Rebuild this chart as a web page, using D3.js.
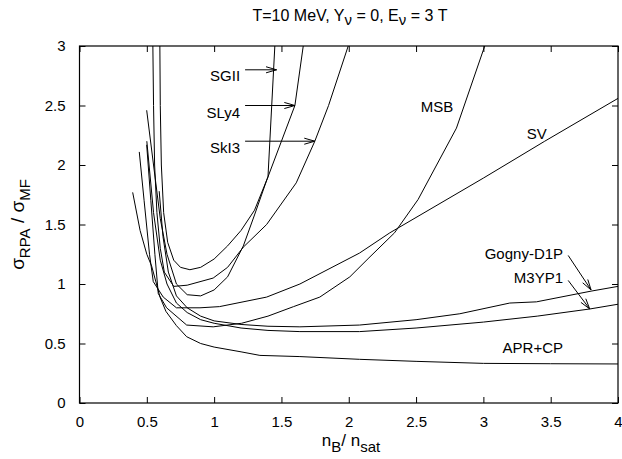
<!DOCTYPE html>
<html>
<head>
<meta charset="utf-8">
<script src="https://cdn.jsdelivr.net/npm/d3@7"></script>
<style>
  html, body { margin: 0; padding: 0; background: #fff; }
  svg text { font-family: "Liberation Sans", Arial, sans-serif; fill: #000; }
</style>
</head>
<body>
<svg id="chart" width="622" height="459"></svg>
<script>
// Ratio of RPA to mean-field cross sections vs. baryon density, one curve per interaction
const xTicks = [0, 0.5, 1, 1.5, 2, 2.5, 3, 3.5, 4];
const yTicks = [0, 0.5, 1, 1.5, 2, 2.5, 3];

const sgII = [[0.597,3.0],[0.600,2.5],[0.608,2.0],[0.625,1.6],[0.655,1.35],[0.70,1.20],[0.75,1.14],[0.82,1.12],[0.90,1.14],[1.00,1.21],[1.10,1.32],[1.20,1.45],[1.30,1.62],[1.40,1.90],[1.451,3.0]];
const sly4 = [[0.499,2.46],[0.55,2.0],[0.60,1.55],[0.65,1.25],[0.72,1.00],[0.80,0.91],[0.90,0.90],[1.00,0.95],[1.10,1.06],[1.217,1.32],[1.30,1.58],[1.39,1.87],[1.50,2.20],[1.60,2.50],[1.662,3.0]];
const skI3 = [[0.545,3.0],[0.550,2.5],[0.558,2.0],[0.575,1.6],[0.60,1.30],[0.63,1.10],[0.70,0.98],[0.80,0.99],[0.993,1.05],[1.10,1.14],[1.217,1.31],[1.39,1.50],[1.61,1.85],[1.748,2.20],[1.85,2.50],[1.996,3.0]];
const msb = [[0.499,2.17],[0.53,1.70],[0.56,1.25],[0.585,0.92],[0.647,0.80],[0.796,0.655],[0.993,0.64],[1.204,0.67],[1.40,0.73],[1.59,0.81],[1.785,0.89],[2.008,1.06],[2.15,1.22],[2.34,1.43],[2.515,1.71],[2.80,2.31],[3.01,3.0]];
const sv = [[0.444,2.11],[0.48,1.70],[0.52,1.25],[0.548,1.02],[0.622,0.89],[0.72,0.80],[0.895,0.80],[1.04,0.81],[1.39,0.89],[1.637,1.00],[2.08,1.26],[2.305,1.43],[3.0,1.89],[3.456,2.20],[4.0,2.56]];
const gogny = [[0.592,1.78],[0.62,1.40],[0.66,1.10],[0.72,0.90],[0.80,0.80],[0.90,0.73],[1.00,0.69],[1.20,0.66],[1.40,0.645],[1.637,0.64],[2.08,0.655],[2.50,0.70],[2.825,0.75],[3.196,0.84],[3.394,0.85],[3.80,0.94],[4.0,0.98]];
const m3yp1 = [[0.50,2.20],[0.55,1.60],[0.60,1.20],[0.65,1.00],[0.72,0.84],[0.80,0.76],[0.90,0.70],[1.00,0.67],[1.20,0.63],[1.40,0.61],[1.637,0.60],[2.08,0.60],[2.50,0.63],[3.0,0.68],[3.40,0.73],[3.79,0.79],[4.0,0.83]];
const aprCP = [[0.395,1.77],[0.45,1.45],[0.50,1.25],[0.536,1.15],[0.598,0.89],[0.642,0.77],[0.72,0.65],[0.796,0.557],[0.90,0.50],[1.00,0.47],[1.20,0.43],[1.34,0.40],[1.637,0.39],[2.08,0.367],[2.50,0.35],[3.0,0.333],[3.5,0.33],[4.0,0.328]];

const curves = [sgII, sly4, skI3, msb, sv, gogny, m3yp1, aprCP];

// text labels: [text, x-data, y-data, anchor]
const labels = [
  ["SGII", 1.193, 2.74, "end"],
  ["SLy4", 1.193, 2.43, "end"],
  ["SkI3", 1.193, 2.13, "end"],
  ["MSB", 2.656, 2.48, "middle"],
  ["SV", 3.397, 2.25, "middle"],
  ["Gogny-D1P", 3.592, 1.245, "end"],
  ["M3YP1", 3.592, 1.04, "end"],
  ["APR+CP", 3.592, 0.45, "end"]
];
// arrows: [x0, y0, x1, y1] in data units, head at (x1, y1)
const arrows = [
  [1.23, 2.80, 1.464, 2.80],
  [1.23, 2.50, 1.60, 2.50],
  [1.23, 2.20, 1.748, 2.20],
  [3.63, 1.24, 3.80, 0.95],
  [3.63, 1.03, 3.79, 0.79]
];

const svg = d3.select("#chart");
const margin = { left: 79.5, right: 4, top: 46, bottom: 56 };
const W = 622, H = 459;
const x = d3.scaleLinear().domain([0, 4]).range([margin.left, W - margin.right]);
const y = d3.scaleLinear().domain([0, 3]).range([H - margin.bottom, margin.top]);

const clipId = "plotclip";
svg.append("clipPath").attr("id", clipId).append("rect")
  .attr("x", x(0)).attr("y", y(3)).attr("width", x(4) - x(0)).attr("height", y(0) - y(3));

// axes with inward ticks on all four sides
const tickLen = 6;
const fmt = d => d3.format("")(d);
svg.append("g").attr("transform", `translate(0,${y(0)})`)
  .call(d3.axisBottom(x).tickValues(xTicks).tickSize(-tickLen).tickPadding(tickLen + 7).tickFormat(fmt));
svg.append("g").attr("transform", `translate(0,${y(3)})`)
  .call(d3.axisTop(x).tickValues(xTicks).tickSize(-tickLen).tickFormat(""));
svg.append("g").attr("transform", `translate(${x(0)},0)`)
  .call(d3.axisLeft(y).tickValues(yTicks).tickSize(-tickLen).tickPadding(tickLen + 8).tickFormat(fmt));
svg.append("g").attr("transform", `translate(${x(4)},0)`)
  .call(d3.axisRight(y).tickValues(yTicks).tickSize(-tickLen).tickFormat(""));
svg.selectAll(".domain").remove();
svg.selectAll(".tick line").attr("stroke", "#000").attr("stroke-width", 1);
svg.selectAll(".tick text").style("font-size", "15px").style("font-family", "Liberation Sans, Arial, sans-serif");

svg.append("rect")
  .attr("x", x(0)).attr("y", y(3)).attr("width", x(4) - x(0)).attr("height", y(0) - y(3))
  .attr("fill", "none").attr("stroke", "#000").attr("stroke-width", 1.2);

// curves
const line = d3.line().x(d => x(d[0])).y(d => y(d[1]));
svg.append("g").attr("clip-path", `url(#${clipId})`)
  .selectAll("path").data(curves).join("path")
  .attr("d", line).attr("fill", "none").attr("stroke", "#000").attr("stroke-width", 1);

// curve labels
svg.append("g").selectAll("text").data(labels).join("text")
  .attr("x", d => x(d[1])).attr("y", d => y(d[2]))
  .attr("text-anchor", d => d[3]).attr("dominant-baseline", "middle")
  .style("font-size", "15px").text(d => d[0]);

// arrows with open heads
const ag = svg.append("g").attr("stroke", "#000").attr("stroke-width", 1).attr("fill", "none");
arrows.forEach(a => {
  const x0 = x(a[0]), y0 = y(a[1]), x1 = x(a[2]), y1 = y(a[3]);
  ag.append("line").attr("x1", x0).attr("y1", y0).attr("x2", x1).attr("y2", y1);
  const ang = Math.atan2(y1 - y0, x1 - x0), L = 11, spread = 0.28;
  ag.append("polyline").attr("points", [
    [x1 - L * Math.cos(ang - spread), y1 - L * Math.sin(ang - spread)],
    [x1, y1],
    [x1 - L * Math.cos(ang + spread), y1 - L * Math.sin(ang + spread)]
  ].map(p => p.join(",")).join(" "));
});

// title
const title = svg.append("text").attr("x", 350).attr("y", 21).attr("text-anchor", "middle").style("font-size", "16px");
title.append("tspan").text("T=10 MeV, Y");
title.append("tspan").attr("dy", 4).style("font-size", "15px").text("ν");
title.append("tspan").attr("dy", -4).text(" = 0, E");
title.append("tspan").attr("dy", 4).style("font-size", "15px").text("ν");
title.append("tspan").attr("dy", -4).text(" = 3 T");

// x-axis label
const xl = svg.append("text").attr("x", 351).attr("y", 446).attr("text-anchor", "middle").style("font-size", "17px");
xl.append("tspan").text("n");
xl.append("tspan").attr("dy", 6).style("font-size", "15px").text("B");
xl.append("tspan").attr("dy", -6).text("/ n");
xl.append("tspan").attr("dy", 6).style("font-size", "15px").text("sat");

// y-axis label
const yl = svg.append("text").attr("transform", `translate(24,${(y(0) + y(3)) / 2}) rotate(-90)`)
  .attr("text-anchor", "middle").style("font-size", "19px");
yl.append("tspan").text("σ");
yl.append("tspan").attr("dy", 6).style("font-size", "15px").text("RPA");
yl.append("tspan").attr("dy", -6).text(" / σ");
yl.append("tspan").attr("dy", 6).style("font-size", "15px").text("MF");
</script>
</body>
</html>
